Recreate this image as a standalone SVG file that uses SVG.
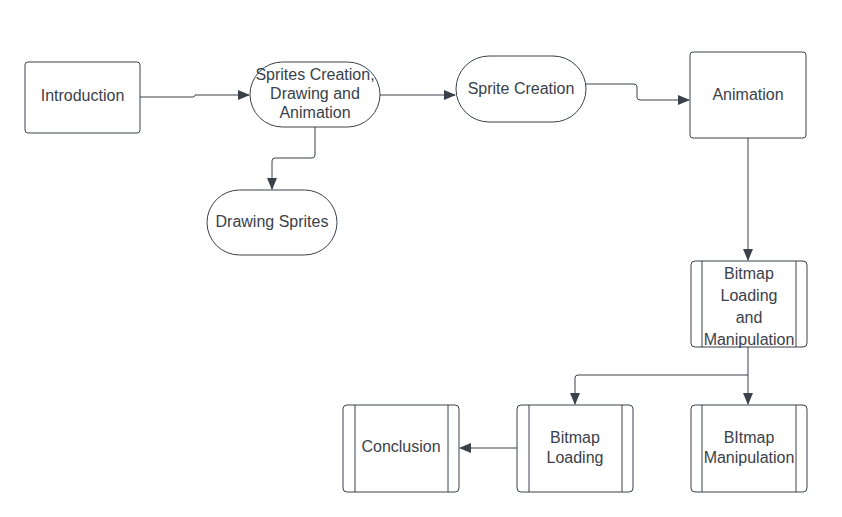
<svg xmlns="http://www.w3.org/2000/svg" width="842" height="517" viewBox="0 0 842 517">
<defs>
<marker id="ah" markerWidth="12" markerHeight="10" refX="11" refY="5" orient="auto" markerUnits="userSpaceOnUse">
<path d="M0,0 L12,5 L0,10 Z" fill="#3a414a"/>
</marker>
<style>
.box{fill:#fff;stroke:#3a414a;stroke-width:1}
.ln{fill:none;stroke:#3a414a;stroke-width:1}
.t{font-family:"Liberation Sans",Arial,sans-serif;font-size:16px;fill:#3a414a;text-anchor:middle}
.c{fill:none;stroke:#3a414a;stroke-width:1;marker-end:url(#ah)}
</style>
</defs>
<rect width="842" height="517" fill="#fff"/>
<g id="connectors">
<path class="c" d="M140,97 H193 Q195,97 195,95 H249"/>
<path class="c" d="M380,95 H455"/>
<path class="c" d="M586,84 H634 Q637,84 637,87 V97 Q637,100 640,100 H689"/>
<path class="c" d="M315,127 V155 Q315,158 312,158 H275 Q272,158 272,161 V189"/>
<path class="c" d="M748,138 V260"/>
<path class="c" d="M748,347 V404"/>
<path class="c" d="M748,375 H578 Q575,375 575,378 V404"/>
<path class="c" d="M517,448 H460"/>
</g>
<g id="introduction">
<rect class="box" x="25" y="62" width="115" height="71" rx="3"/>
<text class="t" x="82.5" y="101">Introduction</text>
</g>
<g id="sprites-creation-drawing-animation">
<rect class="box" x="250" y="62" width="130" height="65" rx="32.5"/>
<text class="t" x="315" y="80">Sprites Creation,</text>
<text class="t" x="315" y="99">Drawing and</text>
<text class="t" x="315" y="118">Animation</text>
</g>
<g id="sprite-creation">
<rect class="box" x="456" y="56" width="130" height="66" rx="33"/>
<text class="t" x="521" y="94">Sprite Creation</text>
</g>
<g id="drawing-sprites">
<rect class="box" x="207" y="190" width="130" height="65" rx="32.5"/>
<text class="t" x="272" y="227">Drawing Sprites</text>
</g>
<g id="animation">
<rect class="box" x="690" y="52" width="116" height="86" rx="3"/>
<text class="t" x="748" y="100">Animation</text>
</g>
<g id="bitmap-loading-manipulation">
<rect class="box" x="691" y="261" width="116" height="86" rx="4"/>
<path class="ln" d="M702,261 V347 M796,261 V347"/>
<text class="t" x="749" y="279">Bitmap</text>
<text class="t" x="749" y="301">Loading</text>
<text class="t" x="749" y="323">and</text>
<text class="t" x="749" y="345">Manipulation</text>
</g>
<g id="bitmap-loading">
<rect class="box" x="517" y="405" width="116" height="87" rx="4"/>
<path class="ln" d="M529,405 V492 M622,405 V492"/>
<text class="t" x="575" y="443">Bitmap</text>
<text class="t" x="575" y="463">Loading</text>
</g>
<g id="bitmap-manipulation">
<rect class="box" x="691" y="405" width="116" height="87" rx="4"/>
<path class="ln" d="M702,405 V492 M796,405 V492"/>
<text class="t" x="749" y="443">BItmap</text>
<text class="t" x="749" y="463">Manipulation</text>
</g>
<g id="conclusion">
<rect class="box" x="343" y="405" width="116" height="87" rx="4"/>
<path class="ln" d="M355,405 V492 M448,405 V492"/>
<text class="t" x="401" y="452">Conclusion</text>
</g>
</svg>
